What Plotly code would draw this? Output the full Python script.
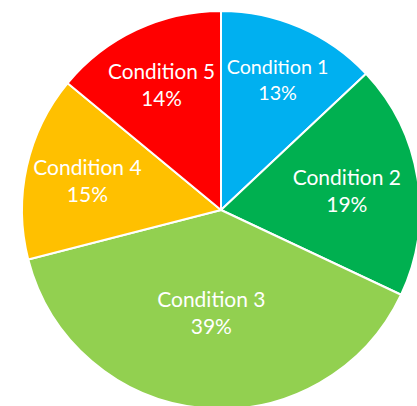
import plotly.graph_objects as go

labels = ["Condition 1", "Condition 2", "Condition 3", "Condition 4", "Condition 5"]
values = [13, 19, 39, 15, 14]
colors = ["#00B0F0", "#00B050", "#92D050", "#FFC000", "#FF0000"]

W, H = 440, 420
fig = go.Figure(go.Pie(
    labels=labels,
    values=values,
    sort=False,
    direction="clockwise",
    rotation=0,
    marker=dict(colors=colors, line=dict(color="white", width=2)),
    texttemplate="%{label}<br>%{percent:.0%}",
    textposition="inside",
    insidetextorientation="horizontal",
    textfont=dict(family="Lato", size=21, color="white"),
    showlegend=False,
    hoverinfo="label+percent",
    domain=dict(x=[22 / W, 420 / W], y=[(H - 409) / H, (H - 11) / H]),
))
fig.update_layout(
    width=W, height=H,
    margin=dict(l=0, r=0, t=0, b=0),
    paper_bgcolor="white",
    plot_bgcolor="white",
)
fig.write_html(
    "out.html",
    config={"displayModeBar": False},
    post_script="document.body.style.margin='0';document.body.style.overflow='hidden';",
)
